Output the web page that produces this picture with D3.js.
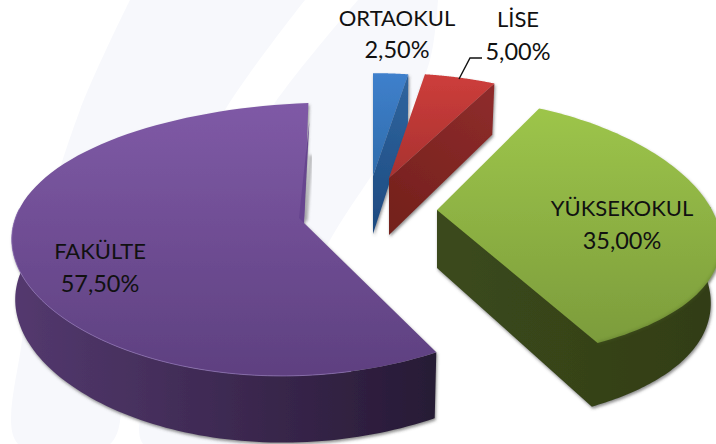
<!DOCTYPE html>
<html><head><meta charset="utf-8">
<script src="https://cdn.jsdelivr.net/npm/d3@7"></script>
<style>html,body{margin:0;padding:0;background:#fff;overflow:hidden}svg{display:block}text{font-family:Lato,"Open Sans",sans-serif;fill:#111}</style>
</head><body>
<script>
// Data
const categories = ["ORTAOKUL", "LİSE", "YÜKSEKOKUL", "FAKÜLTE"];
const shares = [2.5, 5, 35, 57.5];
const shareLabels = ["2,50%", "5,00%", "35,00%", "57,50%"];
// Exploded 3D layout per slice
const apexX = [373, 389, 437, 304];
const apexY = [176, 178, 210, 223];
const radii = [250, 255, 275, 292];
const perspectiveX = [0.111, 0.111, 0.25, 0.03];
const perspectiveY = [0.111, 0.111, 0.15, 0.12];
const tilt = [0.457, 0.457, 0.47, 0.46];
const leanX = [0, 0, 0, 0.015];
const leanY = [0, 0, 0, 0.035];
const depth = [58, 57, 58, 60];
const taper = [0.01, 0.02, 0.036, 0.012];
const topLight = ["#3f80cc", "#cd3d3b", "#9dc54a", "#7f5aa6"];
const topDark = ["#2f6cab", "#a83230", "#7c9c3c", "#5e4080"];
const wallA = ["#1d4a80", "#72201b", "#3b4a1b", "#54396f"];
const wallB = ["#2f659f", "#8f2c2c", "#323d17", "#271a35"];
const labelX = [397, 518, 622, 100];
const nameY = [26, 27, 216, 259];
const valueY = [58, 60, 249, 292];

const W = 716, H = 444;
const svg = d3.select("body").append("svg").attr("width", W).attr("height", H);
const defs = svg.append("defs");
defs.append("filter").attr("id", "sh").attr("x", "-20%").attr("y", "-20%").attr("width", "140%").attr("height", "140%")
  .append("feDropShadow").attr("dx", 1).attr("dy", 2).attr("stdDeviation", 1.6).attr("flood-color", "#444").attr("flood-opacity", 0.6);
defs.append("filter").attr("id", "blur").append("feGaussianBlur").attr("stdDeviation", 1.5);

// Background watermark
const bandLine = d3.line().curve(d3.curveCatmullRom);
const bands = [
  [[130,0],[80,110],[40,240],[22,340],[18,444],[110,444],[125,340],[165,230],[225,110],[305,0]],
  [[358,0],[270,110],[205,230],[165,340],[143,444],[240,444],[280,340],[330,240],[400,130],[430,60],[438,0]]
];
svg.selectAll("path.band").data(bands).join("path").attr("class","band")
  .attr("d", d => bandLine(d) + "Z").attr("fill", "#f7f8fc");

const arcs = d3.pie().sort(null).value(d => d)(shares);

function upper(i, th) {
  const R = radii[i], X = R * Math.sin(th), Y = R * Math.cos(th);
  const sx = 1 / (1 + perspectiveX[i] * Y / R), sy = 1 / (1 + perspectiveY[i] * Y / R);
  return [apexX[i] + X * sx + leanX[i] * Y, apexY[i] - tilt[i] * Y * sy - leanY[i] * X];
}
function lower(i, th) {
  const p = upper(i, th);
  return [apexX[i] + (p[0] - apexX[i]) * (1 - taper[i]), p[1] + depth[i] * (1 - 0.111 * Math.cos(th))];
}
const apexTop = i => [apexX[i], apexY[i]];
const apexLow = i => [apexX[i], apexY[i] + depth[i]];
const line = d3.line();
const samples = (a, b, n = 90) => d3.range(n + 1).map(k => a + (b - a) * k / n);

function grad(id, x1, y1, x2, y2, c1, c2) {
  const g = defs.append("linearGradient").attr("id", id).attr("gradientUnits", "userSpaceOnUse")
    .attr("x1", x1).attr("y1", y1).attr("x2", x2).attr("y2", y2);
  g.append("stop").attr("offset", 0).attr("stop-color", c1);
  g.append("stop").attr("offset", 1).attr("stop-color", c2);
  return `url(#${id})`;
}

[0, 1, 2, 3].forEach(i => {
  const d = arcs[i];
  const g = svg.append("g").attr("filter", "url(#sh)");
  const a0 = d.startAngle, a1 = d.endAngle;
  const rimPts = samples(a0, a1).map(t => upper(i, t));
  const ys = rimPts.map(p => p[1]);

  // blue and red show their end cut face
  if (i < 2) {
    const face = [apexTop(i), upper(i, a1), lower(i, a1), apexLow(i)];
    g.append("path").attr("d", line(face) + "Z")
      .attr("fill", grad("w" + i, apexX[i], apexY[i] + depth[i], upper(i, a1)[0], upper(i, a1)[1], wallA[i], wallB[i]));
  }
  if (i === 2) {
    // cut face and outer rim as one outline, so no seam shows between them
    const ts = samples(a1, 1.55);
    const wall = [apexTop(i), apexLow(i)].concat(ts.map(t => lower(i, t)), [upper(i, 1.55)]);
    g.append("path").attr("d", line(wall) + "Z")
      .attr("fill", grad("w" + i, apexX[i], 0, W, 0, wallA[i], wallB[i]));
  }
  if (i === 3) {
    const ts = samples(a0, 1.56 * Math.PI);
    const rim = ts.map(t => upper(i, t)).concat(ts.slice().reverse().map(t => lower(i, t)));
    g.append("path").attr("d", line(rim) + "Z")
      .attr("fill", grad("w" + i, 12, 0, 436, 0, wallA[i], wallB[i]));
  }
  // top surface
  const surface = [apexTop(i)].concat(rimPts);
  g.append("path").attr("d", line(surface) + "Z")
    .attr("fill", grad("t" + i, 0, d3.min(ys), 0, Math.max(d3.max(ys), apexY[i]), topLight[i], topDark[i]));

  if (i === 2) {
    const ts = samples(1.7, a1);
    svg.append("path").attr("d", line(ts.map(t => upper(i, t)))).attr("fill", "none")
      .attr("stroke", "#4d6322").attr("stroke-width", 2.5).attr("opacity", 0.35).attr("filter", "url(#blur)");
  }
  if (i === 3) {
    // rim highlight and narrow inner sliver of the cut
    const ts = samples(a0 + 0.3, 1.56 * Math.PI);
    svg.append("path").attr("d", line(ts.map(t => upper(i, t)))).attr("fill", "none")
      .attr("stroke", "#9478bb").attr("stroke-width", 1).attr("opacity", 0.7);
    const rim0 = upper(i, a1);
    svg.append("path").attr("d", line([[rim0[0] + 1, rim0[1] + 18], [apexX[i], apexY[i]], [apexX[i] - 5, apexY[i] - 5]]) + "Z")
      .attr("fill", "#67458f");
    svg.append("path").attr("d", line([[rim0[0] + 2.5, rim0[1] + 52], [apexX[i] + 2, apexY[i] - 2]]))
      .attr("stroke", "#777").attr("stroke-width", 3).attr("opacity", 0.6).attr("filter", "url(#blur)");
  }
  if (i === 0) {
    svg.insert("path", "g").attr("d", line([[apexX[i] - 3, apexY[i] - 50], [apexX[i] - 3, apexY[i] + depth[i]]]))
      .attr("stroke", "#777").attr("stroke-width", 2.5).attr("opacity", 0.6).attr("filter", "url(#blur)");
  }
});

// Leader line for LİSE
const leader = [[459, 79], [470, 58], [482, 58]];
svg.append("path").attr("d", line(leader)).attr("fill", "none").attr("stroke", "#111").attr("stroke-width", 1.4);

// Labels
svg.selectAll("text.n").data(categories).join("text").attr("class", "n")
  .attr("x", (d, i) => labelX[i]).attr("y", (d, i) => nameY[i])
  .attr("text-anchor", "middle").attr("font-size", 22).text(d => d);
svg.selectAll("text.v").data(shareLabels).join("text").attr("class", "v")
  .attr("x", (d, i) => labelX[i]).attr("y", (d, i) => valueY[i])
  .attr("text-anchor", "middle").attr("font-size", 23.5).text(d => d);
</script>
</body></html>
